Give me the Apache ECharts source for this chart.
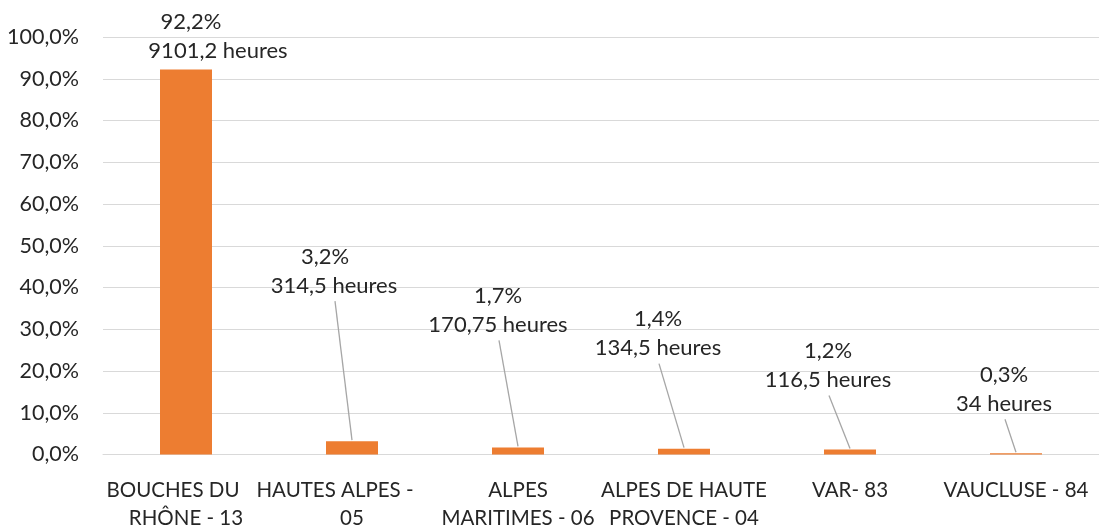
<!DOCTYPE html>
<html>
<head>
<meta charset="utf-8">
<script src="https://cdn.jsdelivr.net/npm/echarts@6/dist/echarts.min.js"></script>
<style>
html,body{margin:0;padding:0;background:#fff;}
#chart{width:1099px;height:529px;}
</style>
</head>
<body>
<div id="chart"></div>
<script>
// ---- data ----
var categories = ['BOUCHES DU\nRHÔNE - 13', 'HAUTES ALPES -\n05', 'ALPES\nMARITIMES - 06', 'ALPES DE HAUTE\nPROVENCE - 04', 'VAR- 83', 'VAUCLUSE - 84'];
var percents = [92.2, 3.2, 1.7, 1.4, 1.2, 0.3];
var hours = ['9101,2', '314,5', '170,75', '134,5', '116,5', '34'];
var yTickMin = 0, yTickMax = 100, yTickStep = 10;

// ---- label placement (style) ----
var labelOffsets = [
  {dx: 32, dy: -33, dx1: -27, line: false},
  {dx: -18, dy: -170, dx1: -9, line: true},
  {dx: -20, dy: -137, dx1: 0, line: true},
  {dx: -26, dy: -115, dx1: 0, line: true},
  {dx: -22, dy: -84, dx1: 0, line: true},
  {dx: -12, dy: -64, dx1: 0, line: true}
];
var xFirstLineShift = [26, 34, 0, 0, 0, 0];

var FONT = 'Lato';
var TXT = '#262626';
var XFS = 20.5;

function fmtPct(v) { return v.toFixed(1).replace('.', ',') + '%'; }

var rich = {
  n: {fontFamily: FONT, fontSize: XFS, color: TXT, lineHeight: 28}
};
xFirstLineShift.forEach(function (s, i) {
  rich['s' + i] = {fontFamily: FONT, fontSize: XFS, color: TXT, lineHeight: 28, padding: [0, s, 0, 0]};
});

var chart = echarts.init(document.getElementById('chart'), null, {renderer: 'canvas'});
chart.setOption({
  animation: false,
  backgroundColor: '#ffffff',
  grid: {left: 103, right: -4, top: 37, bottom: 73, containLabel: false},
  xAxis: {
    type: 'category',
    data: categories,
    axisLine: {show: true, lineStyle: {color: '#d9d9d9', width: 1}},
    axisTick: {show: false},
    axisLabel: {
      interval: 0,
      margin: 22,
      formatter: function (value, idx) {
        var parts = value.split('\n');
        if (parts.length === 1) return '{n|' + parts[0] + '}';
        return '{s' + idx + '|' + parts[0] + '}\n{n|' + parts[1] + '}';
      },
      rich: rich
    }
  },
  yAxis: {
    type: 'value',
    min: yTickMin, max: yTickMax, interval: yTickStep,
    axisLine: {show: false},
    axisTick: {show: false},
    splitLine: {lineStyle: {color: '#d9d9d9', width: 1}},
    axisLabel: {
      margin: 24,
      fontFamily: FONT, fontSize: 21.5, color: TXT,
      formatter: function (v) { return fmtPct(v); }
    }
  },
  series: [
    {
      type: 'bar',
      data: percents,
      barWidth: 52,
      itemStyle: {color: '#ED7D31'},
      z: 2
    },
    {
      type: 'custom',
      data: percents.map(function (v, i) { return [i, v]; }),
      encode: {x: 0, y: 1},
      z: 5,
      clip: false,
      renderItem: function (params, api) {
        var i = params.dataIndex;
        var p = api.coord([api.value(0), api.value(1)]);
        var o = labelOffsets[i];
        var cx = p[0] + o.dx, cy = p[1] + o.dy;
        var children = [
          {type: 'text', style: {text: fmtPct(percents[i]), x: cx + o.dx1, y: cy - 14.5, fill: TXT, font: '22px ' + FONT, align: 'center', verticalAlign: 'middle'}},
          {type: 'text', style: {text: hours[i] + ' heures', x: cx, y: cy + 14.5, fill: TXT, font: '22px ' + FONT, align: 'center', verticalAlign: 'middle'}}
        ];
        if (o.line) {
          children.push({type: 'line', shape: {x1: cx + 1, y1: cy + 30, x2: p[0], y2: p[1] - 1}, style: {stroke: '#a6a6a6', lineWidth: 1.3}});
        }
        return {type: 'group', children: children};
      }
    }
  ]
});
</script>
</body>
</html>
